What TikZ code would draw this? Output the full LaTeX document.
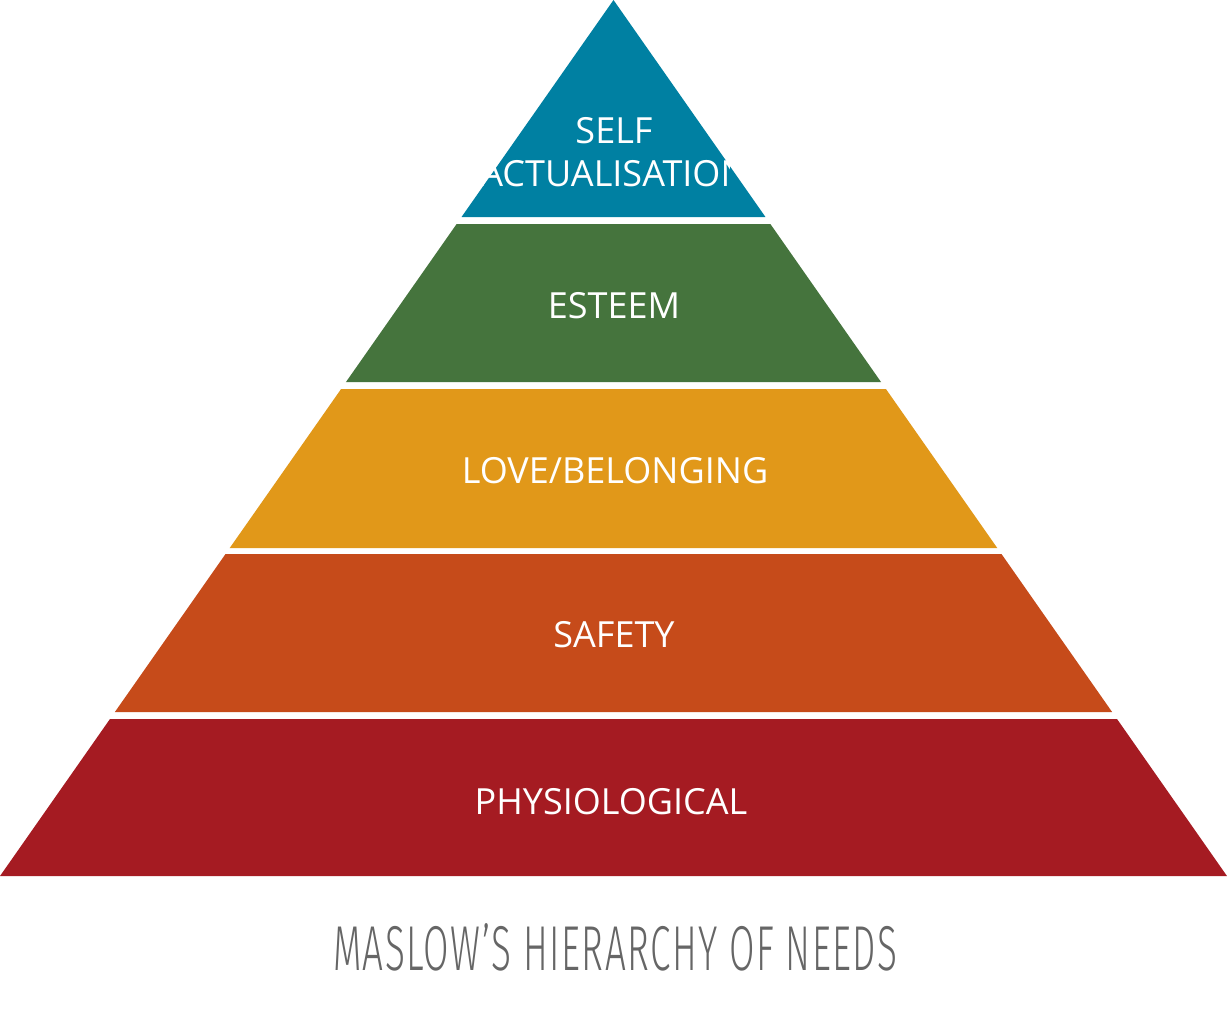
\documentclass[tikz,border=0pt]{standalone}
\usepackage{fontspec}
\setmainfont{Open Sans}
\IfFontExistsTF{Fira Sans Light}{%
  \newfontfamily\titlefont{Fira Sans Light}[LetterSpace=4]}{%
  \newfontfamily\titlefont{Liberation Sans}[LetterSpace=4]}
\usepackage{graphicx}
\definecolor{cteal}{HTML}{0080A2}
\definecolor{cgreen}{HTML}{45743D}
\definecolor{corange}{HTML}{E19819}
\definecolor{csafety}{HTML}{C64B1A}
\definecolor{cred}{HTML}{A51B22}
\definecolor{cgray}{HTML}{666666}
\tikzset{
  tierlabel/.style={text=white, font=\fontsize{36}{36}\selectfont, inner sep=0pt, anchor=base},
}
\newcommand{\tierpath}[2]{(613.5-0.7003*#1,#1) -- (613.5+0.7003*#1,#1) -- (613.5+0.7003*#2,#2) -- (613.5-0.7003*#2,#2) -- cycle}
\begin{document}
\begin{tikzpicture}[x=1pt,y=-1pt]
\useasboundingbox (0,0) rectangle (1228,1018);
\fill[white] (0,0) rectangle (1228,1018);
% tiers
\fill[cteal] (613.5,0) -- (613.5+0.7003*217,217) -- (613.5-0.7003*217,217) -- cycle;
\fill[cgreen] \tierpath{224}{382};
\fill[corange] \tierpath{389}{548};
\fill[csafety] \tierpath{554}{712};
\fill[cred] \tierpath{719}{876};
% labels
\begin{scope}
\clip (480,100) rectangle (729,200);
\node[tierlabel] (self) at (614,143) {SELF};
\node[tierlabel] (actual) at (614,186) {ACTUALISATION};
\end{scope}
\node[tierlabel] (esteem) at (614,318) {ESTEEM};
\node[tierlabel] (love) at (615,483) {LOVE/BELONGING};
\node[tierlabel] (safety) at (614,647) {SAFETY};
\node[tierlabel] (phys) at (611,814) {PHYSIOLOGICAL};
% title
\node[anchor=base, inner sep=0pt, text=cgray] (title) at (614.5,970) {\resizebox{563pt}{47pt}{\titlefont\fontsize{60}{60}\selectfont MASLOW’S HIERARCHY OF NEEDS\kern-2.4pt}};
\end{tikzpicture}
\end{document}
